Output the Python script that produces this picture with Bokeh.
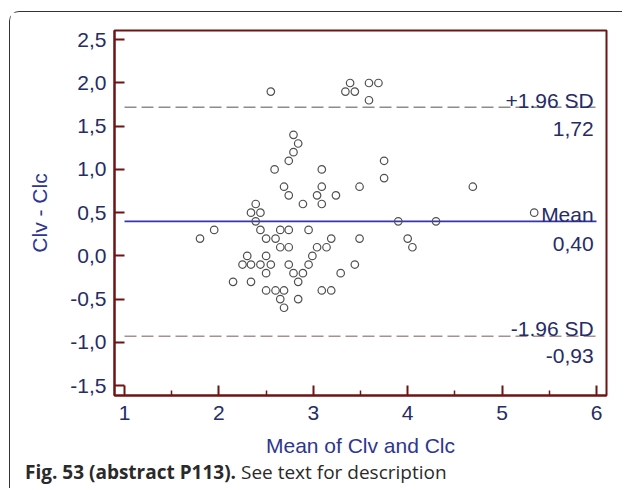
from bokeh.plotting import figure
from bokeh.models import Label, FixedTicker, ColumnDataSource, Range1d, Div
from bokeh.layouts import column
from bokeh.embed import file_html
from bokeh.resources import INLINE

# ---- data ----
mean_x = [2.55, 3.39, 3.34, 3.44, 3.59, 3.69, 3.59,
          2.79, 2.84, 2.79, 2.74, 2.59, 3.09, 3.75, 3.75,
          2.69, 3.09, 3.49, 4.69,
          2.74, 3.04, 3.24,
          2.89, 3.09, 2.39,
          2.34, 2.44, 5.34,
          2.39, 3.90, 4.30,
          1.80, 1.95, 2.44, 2.65, 2.74, 2.95,
          2.50, 2.60, 3.19, 3.49, 4.00,
          4.05, 2.65, 2.74, 3.04, 3.14,
          2.99, 2.30, 2.50,
          2.25, 2.34, 2.44, 2.55, 2.74, 2.95, 3.44,
          2.50, 2.79, 2.89, 3.29,
          2.15, 2.34, 2.84,
          2.50, 2.60, 2.69, 3.09, 3.19,
          2.65, 2.84,
          2.69]
diff_y = [1.9, 2.0, 1.9, 1.9, 2.0, 2.0, 1.8,
          1.4, 1.3, 1.2, 1.1, 1.0, 1.0, 1.1, 0.9,
          0.8, 0.8, 0.8, 0.8,
          0.7, 0.7, 0.7,
          0.6, 0.6, 0.6,
          0.5, 0.5, 0.5,
          0.4, 0.4, 0.4,
          0.2, 0.3, 0.3, 0.3, 0.3, 0.3,
          0.2, 0.2, 0.2, 0.2, 0.2,
          0.1, 0.1, 0.1, 0.1, 0.1,
          0.0, 0.0, 0.0,
          -0.1, -0.1, -0.1, -0.1, -0.1, -0.1, -0.1,
          -0.2, -0.2, -0.2, -0.2,
          -0.3, -0.3, -0.3,
          -0.4, -0.4, -0.4, -0.4, -0.4,
          -0.5, -0.5,
          -0.6]

mean_diff = 0.40
upper_loa = 1.72
lower_loa = -0.93
line_x = [1, 6]

x_ticks = [1, 2, 3, 4, 5, 6]
y_ticks = [-1.5, -1.0, -0.5, 0.0, 0.5, 1.0, 1.5, 2.0, 2.5]
y_tick_labels = ["-1,5", "-1,0", "-0,5", "0,0", "0,5", "1,0", "1,5", "2,0", "2,5"]

upper_name, upper_val = "+1.96 SD", "1,72"
mean_name, mean_val = "Mean", "0,40"
lower_name, lower_val = "-1.96 SD", "-0,93"

x_title = "Mean of Clv and Clc"
y_title = "Clv - Clc"
caption_bold = "Fig. 53 (abstract P113)."
caption_rest = "See text for description"

# ---- styling ----
FONT = "Liberation Sans"
AXIS_RED = "#6e1414"
TICK_TXT = "#262c66"
TITLE_TXT = "#2e3690"
FS = "21px"

p = figure(width=612, height=448, output_backend="svg", toolbar_location=None,
           x_range=Range1d(0.894, 6.106), y_range=Range1d(-1.615, 2.607),
           min_border_left=104, min_border_right=16, min_border_top=18,
           min_border_bottom=65)
p.border_fill_color = "white"
p.background_fill_color = "white"
p.outline_line_color = AXIS_RED
p.outline_line_width = 2
p.grid.visible = False

src = ColumnDataSource(dict(x=mean_x, y=diff_y))

p.line(line_x, [upper_loa] * 2, line_color="#8c8c8c", line_width=1.6, line_dash="12 5")
p.line(line_x, [lower_loa] * 2, line_color="#a89090", line_width=1.6, line_dash="12 5")
p.line(line_x, [mean_diff] * 2, line_color="#3535b0", line_width=1.8)

p.scatter("x", "y", source=src, marker="circle", size=7.5, fill_color=None,
          line_color="#505050", line_width=1.2)

# axes
xa = p.xaxis[0]
xa.ticker = FixedTicker(ticks=x_ticks, minor_ticks=[v + 0.5 for v in x_ticks[:-1]])
ya = p.yaxis[0]
ya.ticker = FixedTicker(ticks=y_ticks, minor_ticks=[])
ya.major_label_overrides = {v: s for v, s in zip(y_ticks, y_tick_labels)}

for ax in (xa, ya):
    ax.axis_line_color = AXIS_RED
    ax.axis_line_width = 2
    ax.major_tick_line_color = AXIS_RED
    ax.major_tick_line_width = 2
    ax.major_tick_in = 10
    ax.major_tick_out = 0
    ax.minor_tick_line_color = AXIS_RED
    ax.minor_tick_line_width = 1.5
    ax.minor_tick_in = 5
    ax.minor_tick_out = 0
    ax.major_label_text_font = FONT
    ax.major_label_text_font_size = FS
    ax.major_label_text_color = TICK_TXT
    ax.axis_label_text_font = FONT
    ax.axis_label_text_font_size = FS
    ax.axis_label_text_font_style = "normal"
    ax.axis_label_text_color = TITLE_TXT

xa.axis_label = x_title
ya.axis_label = y_title
xa.major_label_standoff = 10
ya.major_label_standoff = 8
xa.axis_label_standoff = 11
ya.axis_label_standoff = 16

# line labels
def add_lbl(text, yv, off):
    p.add_layout(Label(x=5.97, y=yv, text=text, text_align="right",
                       text_baseline="alphabetic", y_offset=off, text_font=FONT,
                       text_font_size=FS, text_color=TICK_TXT))

add_lbl(upper_name, upper_loa, 7)
add_lbl(upper_val, upper_loa, -22)
add_lbl(mean_name, mean_diff, 7)
add_lbl(mean_val, mean_diff, -23)
add_lbl(lower_name, lower_loa, 8)
add_lbl(lower_val, lower_loa, -20)

# caption
cap = Div(text=f"<b>{caption_bold}</b> {caption_rest}", width=612, height=28,
          margin=(0, 0, 0, 0),
          styles={"font-family": "'Open Sans', sans-serif", "font-size": "19px",
                  "line-height": "25px", "color": "#2a2a2a", "padding-left": "15px",
                  "white-space": "nowrap"})

layout = column(p, cap, spacing=0,
                styles={"margin-left": "9px", "margin-top": "11px",
                        "border-left": "1.5px solid #333333",
                        "border-top": "1.5px solid #333333",
                        "border-top-left-radius": "10px",
                        "background": "white"})

open("out.html", "w").write(file_html(layout, INLINE))
